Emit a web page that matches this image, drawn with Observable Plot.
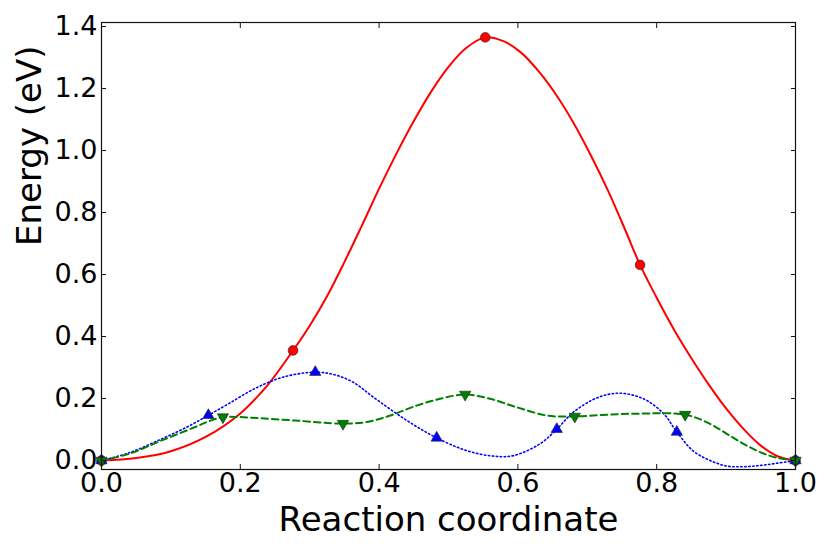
<!DOCTYPE html>
<html>
<head>
<meta charset="utf-8">
<script src="https://cdn.jsdelivr.net/npm/d3@7"></script>
<script src="https://cdn.jsdelivr.net/npm/@observablehq/plot@0.6"></script>
<style>
  html, body { margin: 0; padding: 0; background: #fff; }
  svg { display: block; }
</style>
</head>
<body>
<div id="chart"></div>
<script>
// Tick values
const xTicks = [0, 0.2, 0.4, 0.6, 0.8, 1.0];
const yTicks = [0, 0.2, 0.4, 0.6, 0.8, 1.0, 1.2, 1.4];

// Image markers (NEB images)
const redX = [0, 0.276, 0.553, 0.776, 1];
const redY = [0, 0.355, 1.365, 0.631, 0];
const blueX = [0, 0.154, 0.308, 0.483, 0.656, 0.829, 1];
const blueY = [0, 0.146, 0.285, 0.073, 0.101, 0.092, 0];
const greenX = [0, 0.175, 0.348, 0.524, 0.682, 0.841, 1];
const greenY = [0, 0.140, 0.119, 0.213, 0.142, 0.148, 0];

// Fitted energy curves
const redCurveX = [0, 0.05, 0.1, 0.15, 0.2, 0.24, 0.276, 0.3, 0.325, 0.35, 0.375, 0.4, 0.425, 0.45, 0.475, 0.5, 0.525, 0.553, 0.58, 0.605, 0.63, 0.655, 0.68, 0.705, 0.73, 0.755, 0.776, 0.8, 0.825, 0.85, 0.875, 0.9, 0.925, 0.95, 0.975, 1];
const redCurveY = [0, 0.008, 0.03, 0.076, 0.152, 0.245, 0.355, 0.435, 0.53, 0.64, 0.757, 0.877, 0.99, 1.095, 1.19, 1.27, 1.33, 1.365, 1.352, 1.315, 1.255, 1.18, 1.09, 0.985, 0.87, 0.742, 0.631, 0.525, 0.422, 0.33, 0.245, 0.168, 0.102, 0.048, 0.013, 0];
const blueCurveX = [0, 0.04, 0.087, 0.125, 0.154, 0.183, 0.221, 0.26, 0.308, 0.337, 0.363, 0.392, 0.44, 0.483, 0.526, 0.565, 0.594, 0.632, 0.656, 0.68, 0.716, 0.747, 0.781, 0.81, 0.829, 0.853, 0.877, 0.901, 0.925, 0.949, 0.973, 1];
const blueCurveY = [0, 0.025, 0.07, 0.11, 0.146, 0.183, 0.232, 0.268, 0.285, 0.276, 0.252, 0.204, 0.129, 0.073, 0.032, 0.014, 0.016, 0.054, 0.101, 0.156, 0.204, 0.217, 0.199, 0.151, 0.092, 0.03, 0.0, -0.018, -0.02, -0.016, -0.009, 0];
const greenCurveX = [0, 0.039, 0.087, 0.135, 0.155, 0.175, 0.2, 0.231, 0.279, 0.348, 0.382, 0.416, 0.454, 0.488, 0.524, 0.56, 0.598, 0.642, 0.682, 0.723, 0.771, 0.841, 0.877, 0.901, 0.925, 0.949, 0.973, 1];
const greenCurveY = [0, 0.021, 0.065, 0.108, 0.127, 0.140, 0.140, 0.136, 0.129, 0.119, 0.124, 0.145, 0.177, 0.199, 0.213, 0.199, 0.172, 0.145, 0.142, 0.147, 0.151, 0.148, 0.118, 0.086, 0.054, 0.027, 0.009, 0];

const zip = (xs, ys) => xs.map((x, i) => ({x, y: ys[i]}));
const fmt = d3.format(".1f");
const font = "DejaVu Sans";

const chart = Plot.plot({
  width: 830,
  height: 554,
  marginLeft: 101,
  marginRight: 35,
  marginTop: 22,
  marginBottom: 85,
  style: {fontFamily: font, background: "white", color: "black"},
  x: {domain: [0, 1]},
  y: {domain: [-0.029, 1.413]},
  marks: [
    Plot.line(zip(redCurveX, redCurveY), {x: "x", y: "y", stroke: "#ff0000", strokeWidth: 2, curve: "catmull-rom"}),
    Plot.dot(zip(redX, redY), {x: "x", y: "y", r: 4.9, symbol: "circle", fill: "#ff0000", stroke: "#222", strokeWidth: 0.6}),
    Plot.line(zip(blueCurveX, blueCurveY), {x: "x", y: "y", stroke: "#0000ff", strokeWidth: 1.6, strokeDasharray: "1.4,2.6", curve: "catmull-rom"}),
    Plot.dot(zip(blueX, blueY), {x: "x", y: "y", r: 4.2, symbol: "triangle", fill: "#0000ff", stroke: "#222", strokeWidth: 0.6}),
    Plot.line(zip(greenCurveX, greenCurveY), {x: "x", y: "y", stroke: "#008000", strokeWidth: 2, strokeDasharray: "6.5,4", curve: "catmull-rom"}),
    Plot.dot(zip(greenX, greenY), {x: "x", y: "y", r: 4.2, symbol: "triangle", rotate: 180, fill: "#008000", stroke: "#222", strokeWidth: 0.6}),
    Plot.frame({stroke: "#111", strokeWidth: 1.2}),
    Plot.axisX({anchor: "bottom", ticks: xTicks, tickFormat: fmt, tickSize: -5, tickPadding: 8, fontSize: 27, label: null, stroke: "#111"}),
    Plot.axisX({anchor: "top", ticks: xTicks, tickFormat: () => "", tickSize: -5, label: null, stroke: "#111"}),
    Plot.axisY({anchor: "left", ticks: yTicks, tickFormat: fmt, tickSize: -5, tickPadding: 9, fontSize: 27, label: null, stroke: "#111"}),
    Plot.axisY({anchor: "right", ticks: yTicks, tickFormat: () => "", tickSize: -5, label: null, stroke: "#111"}),
    Plot.text(["Reaction coordinate"], {frameAnchor: "bottom", text: d => d, dy: 61, fontSize: 34, fill: "black"}),
    Plot.text(["Energy (eV)"], {frameAnchor: "left", text: d => d, rotate: -90, dx: -71, fontSize: 34, fill: "black"})
  ]
});
document.getElementById("chart").appendChild(chart);
</script>
</body>
</html>
